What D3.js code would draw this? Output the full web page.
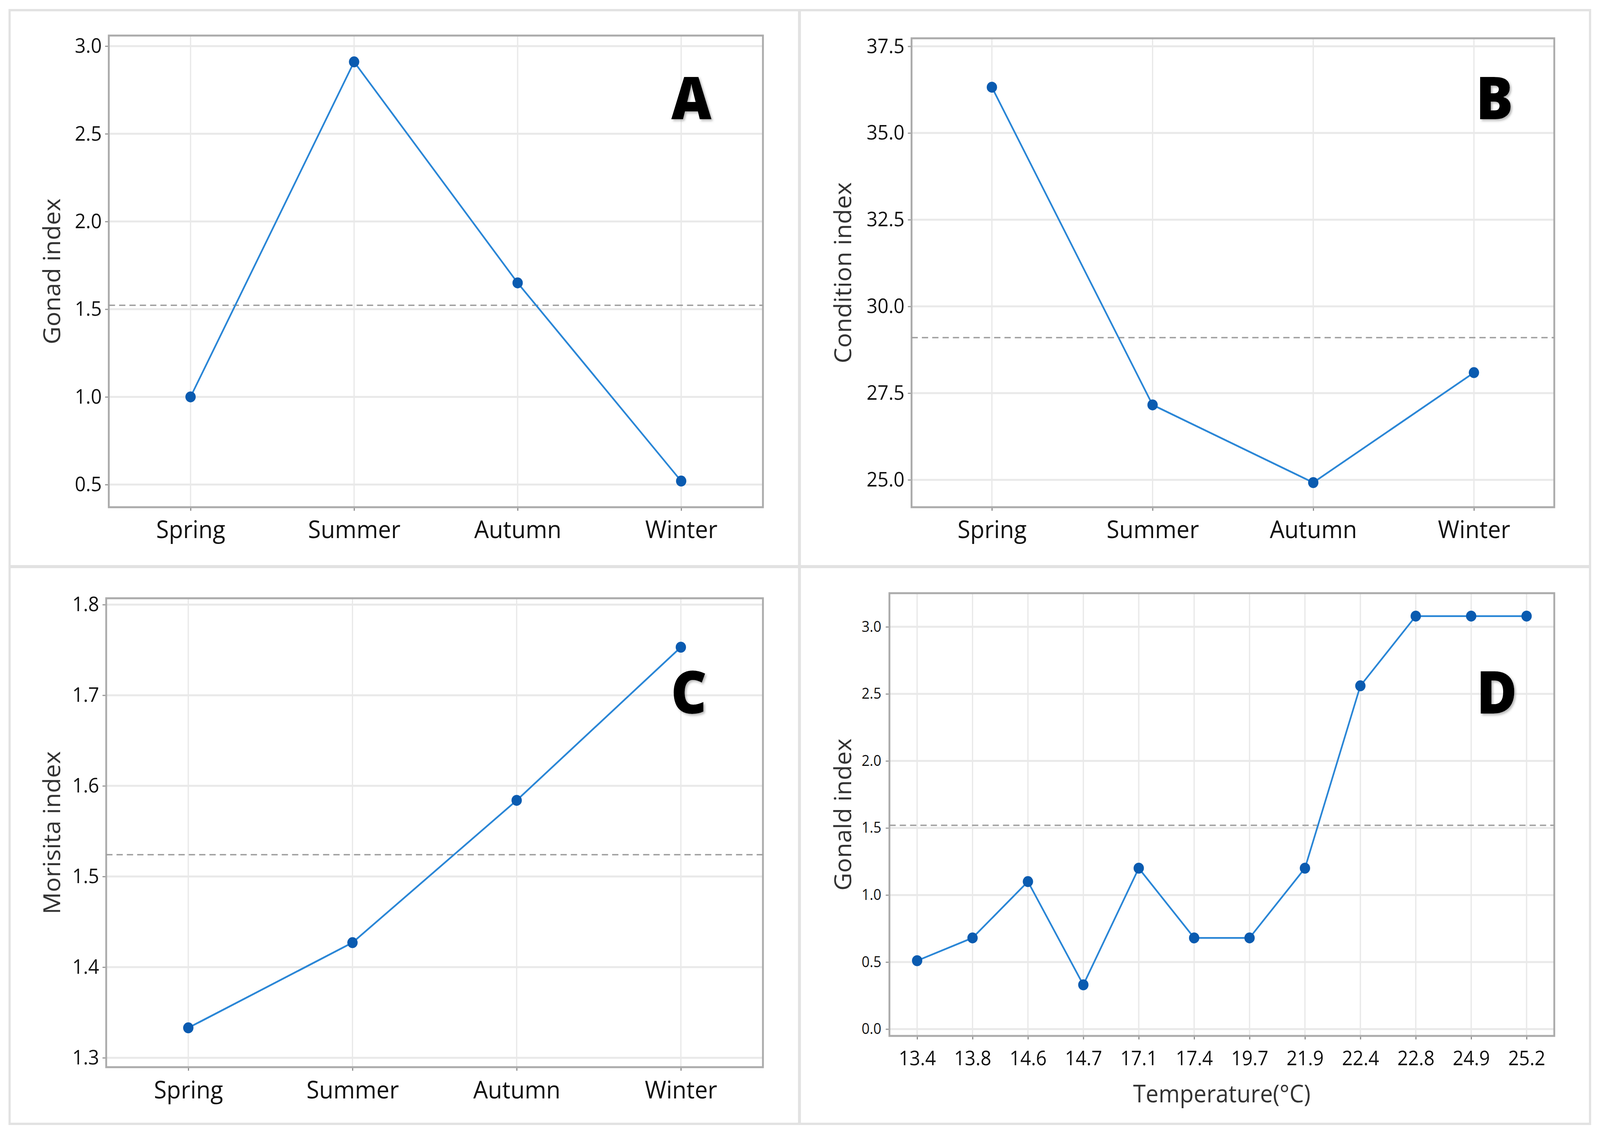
<!DOCTYPE html>
<html>
<head>
<meta charset="utf-8">
<script src="https://cdn.jsdelivr.net/npm/d3@7/dist/d3.min.js"></script>
<style>
  html, body { margin: 0; padding: 0; background: #ffffff; overflow: hidden; width: 100%; height: 100%; }
  svg { display: block; width: 100vw; height: 100vh; }
  text { font-family: "Open Sans", "Noto Sans", "DejaVu Sans", sans-serif; }
</style>
</head>
<body>
<svg id="chart" viewBox="0 0 4339 2902" preserveAspectRatio="none"></svg>
<script>
// ---------------- DATA ----------------
const seasons = ["Spring", "Summer", "Autumn", "Winter"];
const gonadIndex = [1.00, 2.91, 1.65, 0.52];
const conditionIndex = [36.32, 27.16, 24.92, 28.09];
const morisitaIndex = [1.333, 1.427, 1.584, 1.753];
const temperatures = ["13.4", "13.8", "14.6", "14.7", "17.1", "17.4", "19.7", "21.9", "22.4", "22.8", "24.9", "25.2"];
const gonaldIndex = [0.51, 0.68, 1.10, 0.33, 1.20, 0.68, 0.68, 1.20, 2.56, 3.08, 3.08, 3.08];

const ticksA = [0.5, 1.0, 1.5, 2.0, 2.5, 3.0];
const ticksB = [25.0, 27.5, 30.0, 32.5, 35.0, 37.5];
const ticksC = [1.3, 1.4, 1.5, 1.6, 1.7, 1.8];
const ticksD = [0.0, 0.5, 1.0, 1.5, 2.0, 2.5, 3.0];

const meanA = 1.522, meanB = 29.10, meanC = 1.524, meanD = 1.52;

const titles = ["Gonad index", "Condition index", "Morisita index", "Gonald index"];
const letters = ["A", "B", "C", "D"];
const xTitleD = "Temperature(°C)";

// ---------------- LAYOUT ----------------
const panels = [
  { cats: seasons, vals: gonadIndex, ticks: ticksA, mean: meanA, title: titles[0], letter: letters[0],
    x0: 295, x1: 2069, y0: 91, y1: 1298, dom: [0.371, 3.06],
    titleX: 163, letterX: 1875, letterY: 305, xFont: 63, xOff: 79, yFont: 52, small: false },
  { cats: seasons, vals: conditionIndex, ticks: ticksB, mean: meanB, title: titles[1], letter: letters[1],
    x0: 2472, x1: 4215, y0: 98, y1: 1298, dom: [24.21, 37.73],
    titleX: 2308, letterX: 4053, letterY: 305, xFont: 63, xOff: 79, yFont: 52, small: false },
  { cats: seasons, vals: morisitaIndex, ticks: ticksC, mean: meanC, title: titles[2], letter: letters[2],
    x0: 288, x1: 2069, y0: 1531, y1: 2731, dom: [1.2896, 1.807],
    titleX: 163, letterX: 1868, letterY: 1826, xFont: 63, xOff: 80, yFont: 52, small: false },
  { cats: temperatures, vals: gonaldIndex, ticks: ticksD, mean: meanD, title: titles[3], letter: letters[3],
    x0: 2412, x1: 4215, y0: 1518, y1: 2651, dom: [-0.051, 3.251],
    titleX: 2308, letterX: 4059, letterY: 1826, xFont: 51, xOff: 75, yFont: 38, small: true,
    xTitle: xTitleD, xTitleY: 2821 }
];

const svg = d3.select("#chart");
const defs = svg.append("defs");
const f = defs.append("filter").attr("id", "shadow").attr("x", "-20%").attr("y", "-20%").attr("width", "150%").attr("height", "150%");
f.append("feDropShadow").attr("dx", 4).attr("dy", 4).attr("stdDeviation", 3)
  .attr("flood-color", "#777").attr("flood-opacity", 0.55);

svg.append("rect").attr("width", 4339).attr("height", 2902).attr("fill", "#ffffff");

// outer frame and separators
const sepColor = "#e2e2e2";
svg.append("rect").attr("x", 26).attr("y", 26).attr("width", 4286).attr("height", 2850)
  .attr("fill", "none").attr("stroke", sepColor).attr("stroke-width", 6);
svg.append("line").attr("x1", 2168).attr("x2", 2168).attr("y1", 26).attr("y2", 2876)
  .attr("stroke", sepColor).attr("stroke-width", 8);
svg.append("line").attr("x1", 26).attr("x2", 4312).attr("y1", 1450).attr("y2", 1450)
  .attr("stroke", sepColor).attr("stroke-width", 8);

const lineColor = "#2a86d6";
const dotColor = "#0a5bb0";

panels.forEach(p => {
  const g = svg.append("g");
  const x = d3.scalePoint().domain(p.cats).range([p.x0, p.x1]).padding(0.5);
  const y = d3.scaleLinear().domain(p.dom).range([p.y1, p.y0]);

  // gridlines
  g.append("g").selectAll("line").data(p.ticks).join("line")
    .attr("x1", p.x0).attr("x2", p.x1)
    .attr("y1", d => y(d)).attr("y2", d => y(d))
    .attr("stroke", "#e9e9e9").attr("stroke-width", 5);
  g.append("g").selectAll("line").data(p.cats).join("line")
    .attr("x1", d => x(d)).attr("x2", d => x(d))
    .attr("y1", p.y0).attr("y2", p.y1)
    .attr("stroke", "#e9e9e9").attr("stroke-width", 3.5);

  // y axis
  const yAxis = d3.axisLeft(y).tickValues(p.ticks).tickFormat(d3.format(".1f"))
    .tickSize(10).tickPadding(p.small ? 12 : 9);
  const ya = g.append("g").attr("transform", `translate(${p.x0},0)`).call(yAxis);
  ya.select(".domain").remove();
  ya.selectAll(".tick line").attr("stroke", "#999").attr("stroke-width", 3);
  ya.selectAll(".tick text").attr("font-size", p.yFont).attr("fill", "#111")
    .attr("font-family", "'Open Sans', 'Noto Sans', sans-serif");

  // x axis
  const xAxis = d3.axisBottom(x).tickSize(9).tickPadding(0);
  const xa = g.append("g").attr("transform", `translate(0,${p.y1})`).call(xAxis);
  xa.select(".domain").remove();
  xa.selectAll(".tick line").attr("stroke", "#888").attr("stroke-width", 3);
  xa.selectAll(".tick text").attr("font-size", p.xFont).attr("fill", "#111")
    .attr("font-weight", 500)
    .attr("font-family", "'Open Sans', 'Noto Sans', sans-serif")
    .attr("dy", null).attr("y", p.xOff);

  // frame
  g.append("rect").attr("x", p.x0).attr("y", p.y0)
    .attr("width", p.x1 - p.x0).attr("height", p.y1 - p.y0)
    .attr("fill", "none").attr("stroke", "#ababab").attr("stroke-width", 5);

  // mean reference line
  g.append("line").attr("x1", p.x0).attr("x2", p.x1)
    .attr("y1", y(p.mean)).attr("y2", y(p.mean))
    .attr("stroke", "#9e9e9e").attr("stroke-width", 3.5).attr("stroke-dasharray", "17,11");

  // series line
  const pts = p.cats.map((c, i) => [c, p.vals[i]]);
  g.append("path").datum(pts)
    .attr("d", d3.line().x(d => x(d[0])).y(d => y(d[1])))
    .attr("fill", "none").attr("stroke", lineColor).attr("stroke-width", 4.5)
    .attr("stroke-linejoin", "round");
  g.append("g").selectAll("circle").data(pts).join("circle")
    .attr("cx", d => x(d[0])).attr("cy", d => y(d[1])).attr("r", 14)
    .attr("fill", dotColor);

  // y title
  const cy = (p.y0 + p.y1) / 2;
  g.append("text").attr("transform", `translate(${p.titleX},${cy}) rotate(-90)`)
    .attr("text-anchor", "middle").attr("font-size", 63).attr("fill", "#333")
    .text(p.title);

  // x title (panel D)
  if (p.xTitle) {
    g.append("text").attr("x", (p.x0 + p.x1) / 2).attr("y", p.xTitleY)
      .attr("text-anchor", "middle").attr("font-size", 62).attr("fill", "#333")
      .text(p.xTitle);
  }

  // panel letter
  g.append("text").attr("x", p.letterX).attr("y", p.letterY)
    .attr("text-anchor", "middle").attr("font-size", 150).attr("font-weight", 800)
    .attr("fill", "#000").attr("filter", "url(#shadow)")
    .text(p.letter);
});
</script>
</body>
</html>
